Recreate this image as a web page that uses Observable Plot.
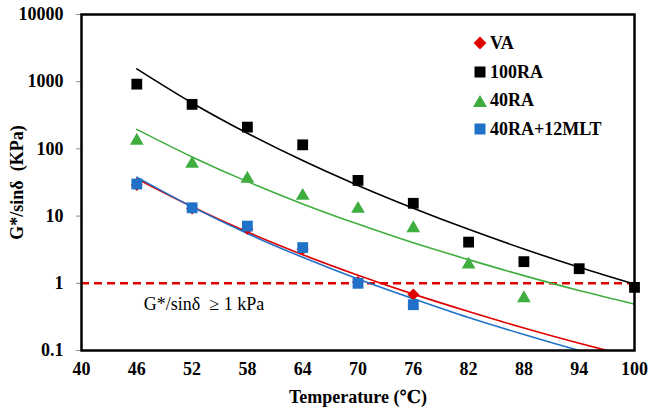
<!DOCTYPE html>
<html>
<head>
<meta charset="utf-8">
<script src="https://cdn.jsdelivr.net/npm/d3@7"></script>
<script src="https://cdn.jsdelivr.net/npm/@observablehq/plot@0.6"></script>
<style>
  body { margin: 0; background: #fff; }
  #wrap { position: relative; width: 650px; height: 414px; font-family: "Liberation Serif", "Times New Roman", "DejaVu Serif", serif; }
  #legend { position: absolute; left: 472px; top: 29px; font-weight: bold; font-size: 18px; line-height: 28.7px; color: #000; }
  #legend .row { display: flex; align-items: center; height: 28.7px; }
  #legend svg { width: 16px; height: 16px; margin-right: 2px; }
</style>
</head>
<body>
<div id="wrap"><div id="legend"></div></div>
<script>
// ---- data ----
const temps = [46, 52, 58, 64, 70, 76, 82, 88, 94, 100];
const xTicks = [40, 46, 52, 58, 64, 70, 76, 82, 88, 94, 100];
const yTicks = [0.1, 1, 10, 100, 1000, 10000];

const seriesNames = ["VA", "100RA", "40RA", "40RA+12MLT"];
const seriesColors = ["#e00000", "#000000", "#3fae3f", "#1f72c8"];

// measured points
const vaValues     = [29, 13, 6.5, 3.2, 1.05, 0.68];
const ra100Values  = [920, 460, 211, 115, 34, 15.5, 4.1, 2.1, 1.65, 0.87];
const ra40Values   = [132, 60, 36, 20, 12.8, 6.6, 1.9, 0.6];
const mltValues    = [30, 13.3, 7.1, 3.4, 1.0, 0.48];

// trendline values at each temperature
const vaTrend    = [36, 13.8, 5.8, 2.67, 1.32, 0.69, 0.38, 0.216, 0.128, 0.079];
const ra100Trend = [1550, 483, 171, 67, 28.6, 13.1, 6.35, 3.24, 1.73, 0.97];
const ra40Trend  = [195, 76, 32.6, 15.2, 7.6, 4.0, 2.25, 1.30, 0.78, 0.49];
const mltTrend   = [38, 13.7, 5.5, 2.44, 1.16, 0.59, 0.31, 0.173, 0.1, 0.06];

const threshold = [1];
const thresholdLabel = "G*/sinδ  ≥ 1 kPa";

// ---- build tables ----
const toRows = (vals, name) => vals.map((v, i) => ({T: temps[i], v, name}));
const pts = {
  VA: toRows(vaValues, "VA"),
  RA100: toRows(ra100Values, "100RA"),
  RA40: toRows(ra40Values, "40RA"),
  MLT: toRows(mltValues, "40RA+12MLT")
};
const trends = [
  [toRows(vaTrend, "VA"), seriesColors[0]],
  [toRows(ra100Trend, "100RA"), seriesColors[1]],
  [toRows(ra40Trend, "40RA"), seriesColors[2]],
  [toRows(mltTrend, "40RA+12MLT"), seriesColors[3]]
];

const font = "'Liberation Serif', 'Times New Roman', 'DejaVu Serif', serif";

const chart = Plot.plot({
  width: 650,
  height: 414,
  marginLeft: 81,
  marginRight: 16,
  marginTop: 14,
  marginBottom: 64,
  style: {fontFamily: font, background: "#fff", color: "#000"},
  x: {domain: [40, 100]},
  y: {type: "log", domain: [0.1, 10000]},
  marks: [
    Plot.ruleY(threshold, {stroke: "#e00000", strokeWidth: 2.6, strokeDasharray: "8,5"}),
    Plot.text(threshold, {x: () => temps[0], y: d => d, text: () => thresholdLabel, textAnchor: "start", dx: 7, dy: 21, fontSize: 18, fontFamily: font, fill: "#000"}),
    ...trends.map(([rows, c]) => Plot.line(rows, {x: "T", y: "v", stroke: c, strokeWidth: 1.6, curve: "catmull-rom", clip: true})),
    Plot.dot(pts.VA, {x: "T", y: "v", symbol: "diamond2", r: 5.4, fill: seriesColors[0], stroke: "none"}),
    Plot.dot(pts.RA100, {x: "T", y: "v", symbol: "square", r: 6.1, fill: seriesColors[1], stroke: "none"}),
    Plot.dot(pts.RA40, {x: "T", y: "v", symbol: "triangle", r: 5.1, fill: seriesColors[2], stroke: "none"}),
    Plot.dot(pts.MLT, {x: "T", y: "v", symbol: "square", r: 6.1, fill: seriesColors[3], stroke: "none"}),
    Plot.axisY({ticks: yTicks, tickFormat: d => String(d), tickSize: 5, tickPadding: 13, stroke: "#888", fill: "#000",
      fontSize: 18, fontWeight: "bold", fontFamily: font, label: "G*/sinδ  (KPa)", labelAnchor: "center", labelOffset: 71, labelArrow: false}),
    Plot.axisX({ticks: xTicks, tickFormat: d => String(d), tickSize: 0, tickPadding: 12,
      fontSize: 18, fontWeight: "bold", fontFamily: font, label: "Temperature (℃)", labelAnchor: "center", labelOffset: 52, labelArrow: false}),
    Plot.frame({stroke: "#000", strokeWidth: 2.5})
  ]
});
document.getElementById("wrap").prepend(chart);

// ---- legend ----
const symbolPaths = {
  "VA": `<polygon points="8,1.6 14.4,8 8,14.4 1.6,8" fill="${seriesColors[0]}"/>`,
  "100RA": `<rect x="2.5" y="2.5" width="11" height="11" fill="${seriesColors[1]}"/>`,
  "40RA": `<polygon points="8,2 15,14 1,14" fill="${seriesColors[2]}"/>`,
  "40RA+12MLT": `<rect x="2.5" y="2.5" width="11" height="11" fill="${seriesColors[3]}"/>`
};
const legend = document.getElementById("legend");
seriesNames.forEach(n => {
  const row = document.createElement("div");
  row.className = "row";
  row.innerHTML = `<svg viewBox="0 0 16 16">${symbolPaths[n]}</svg><span>${n}</span>`;
  legend.appendChild(row);
});
</script>
</body>
</html>
